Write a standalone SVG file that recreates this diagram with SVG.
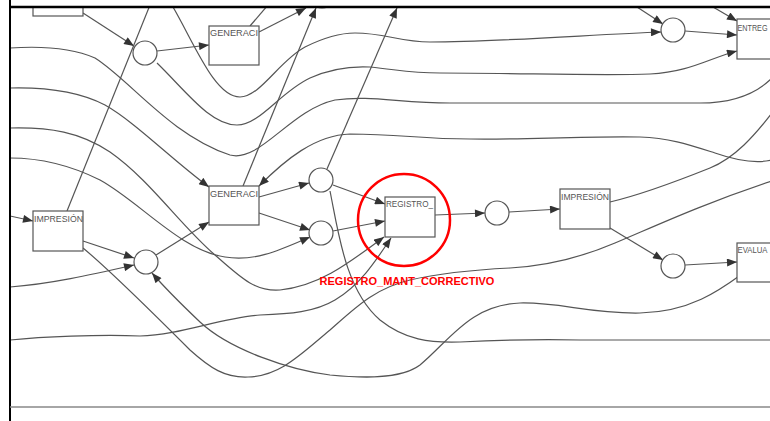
<svg xmlns="http://www.w3.org/2000/svg" width="770" height="421" viewBox="0 0 770 421">
<defs>
<style>
.edge{fill:none;stroke:#555;stroke-width:1.2}
.arr{marker-end:url(#ah)}
.box{fill:#fff;stroke:#555;stroke-width:1.2}
.pl{fill:#fff;stroke:#555;stroke-width:1.2}
.lbl{font-family:"Liberation Sans",Arial,sans-serif;font-size:9.5px;fill:#555}
.red{font-family:"Liberation Sans",Arial,sans-serif;font-size:11px;font-weight:bold;fill:#f00}
</style>
<marker id="ah" viewBox="0 0 10 8" refX="10" refY="4" markerWidth="11" markerHeight="8" markerUnits="userSpaceOnUse" orient="auto">
<path d="M0,0 L10,4 L0,8 z" fill="#333"/>
</marker>
<clipPath id="frame"><rect x="10" y="7" width="760" height="400"/></clipPath>
</defs>
<rect x="0" y="0" width="770" height="421" fill="#fff"/>
<g clip-path="url(#frame)">
<g id="connectors">
<path class="edge arr" d="M83,13 L134,46"/>
<path class="edge arr" d="M157,51 L209,45"/>
<path class="edge" d="M67,211 L150,5"/>
<path class="edge arr" d="M259,32 L306,8"/>
<path class="edge" d="M250,26 L268,5"/>
<path class="edge arr" d="M243,186 L316,8"/>
<path class="edge arr" d="M327,169 L397,8"/>
<path class="edge arr" d="M259,197 L309,183"/>
<path class="edge arr" d="M259,213 L310,230"/>
<path class="edge arr" d="M333,185 L385,204"/>
<path class="edge arr" d="M333,231 L385,221"/>
<path class="edge arr" d="M435,215 L485,213"/>
<path class="edge arr" d="M509,212 L560,209"/>
<path class="edge arr" d="M610,228 L663,260"/>
<path class="edge arr" d="M685,265 L737,262"/>
<path class="edge arr" d="M685,31 L737,35"/>
<path class="edge arr" d="M83,241 L134,258"/>
<path class="edge arr" d="M156,255 L209,222"/>
<path class="edge arr" d="M10,216 L33,221"/>
<path class="edge arr" d="M10,287 C50,284 90,275 134,265"/>
<path class="edge arr" d="M637,7 L663,24"/>
<path class="edge arr" d="M713,7 L737,21"/>
<path class="edge arr" d="M173,7 C195,45 215,97 240,97 C260,97 280,60 305,47 C325,37 340,33 355,33 C385,33 400,42 430,42 C500,42 600,34 661,32"/>
<path class="edge arr" d="M157,63 C185,90 210,125 237,125 C260,125 280,92 310,78 C330,69 350,66 370,67 C400,70 410,73 440,73 C520,73 600,76 650,74 C690,72 710,58 737,51"/>
<path class="edge" d="M10,48 C40,46 70,47 95,58 C130,80 170,135 230,155 C260,163 290,110 335,100 C370,95 400,103 450,103 L700,103 C730,103 755,95 772,78"/>
<path class="edge arr" d="M772,160 C755,164 735,160 715,153 C690,145 670,138 640,137 C580,136 520,140 470,139 C420,139 400,134 350,134 C315,135 285,160 259,186"/>
<path class="edge arr" d="M10,88 C50,87 80,92 105,105 C135,122 170,158 209,187"/>
<path class="edge arr" d="M10,128 C50,127 80,132 110,152 C150,180 180,225 215,255 C240,277 255,292 280,290 C320,286 350,262 384,237"/>
<path class="edge arr" d="M10,158 C40,158 70,165 100,180 C140,202 180,250 225,257 C255,262 280,250 310,237"/>
<path class="edge" d="M83,248 C100,262 150,310 190,350 C210,368 225,378 248,377 C280,376 300,355 330,330 C355,308 375,288 410,280 C440,273 470,270 510,268 C545,266 580,258 615,243 C660,224 700,205 772,181"/>
<path class="edge arr" d="M742,274 C720,290 690,312 640,313 C590,314 560,302 520,303 C470,305 450,340 420,365 C400,380 360,378 330,375 C290,370 230,350 200,322 C180,303 165,288 152,273"/>
<path class="edge" d="M330,191 C338,230 345,290 380,320 C405,340 430,343 460,342 C500,340 540,339 580,340 L772,340"/>
<path class="edge arr" d="M10,340 C40,337 100,334 140,336 C180,335 220,318 260,315 C290,314 315,312 335,300 C360,285 375,262 391,238"/>
<path class="edge" d="M610,202 C640,195 680,180 710,168 C735,158 755,135 772,113"/>
</g>
<g id="node-top-left"><rect class="box" x="33" y="-10" width="50" height="26"/></g>
<g id="node-top-circle"><circle class="pl" cx="322" cy="-4" r="12"/></g>
<g id="p1"><circle class="pl" cx="145" cy="53" r="12"/></g>
<g id="generacion-1"><rect class="box" x="209" y="26" width="50" height="39"/><text class="lbl" x="210" y="35.5" textLength="48" lengthAdjust="spacingAndGlyphs">GENERACI</text></g>
<g id="generacion-2"><rect class="box" x="209" y="186" width="50" height="39"/><text class="lbl" x="210" y="197" textLength="48" lengthAdjust="spacingAndGlyphs">GENERACI</text></g>
<g id="impresion-left"><rect class="box" x="33" y="211" width="50" height="40"/><text class="lbl" x="34" y="222" textLength="49" lengthAdjust="spacingAndGlyphs">IMPRESIÓN</text></g>
<g id="p-bot"><circle class="pl" cx="146" cy="262" r="12"/></g>
<g id="p-r1"><circle class="pl" cx="321" cy="180" r="12"/></g>
<g id="p-r2"><circle class="pl" cx="321" cy="233" r="12"/></g>
<g id="registro"><rect class="box" x="385" y="197" width="50" height="40"/><text class="lbl" x="386" y="207" textLength="47" lengthAdjust="spacingAndGlyphs">REGISTRO_</text></g>
<g id="p-mid"><circle class="pl" cx="497" cy="213" r="12"/></g>
<g id="impresion-right"><rect class="box" x="560" y="189" width="50" height="40"/><text class="lbl" x="561" y="200" textLength="48" lengthAdjust="spacingAndGlyphs">IMPRESIÓN</text></g>
<g id="p-bot-right"><circle class="pl" cx="673" cy="266" r="12"/></g>
<g id="evalua"><rect class="box" x="737" y="243" width="50" height="39"/><text class="lbl" x="737.5" y="253" textLength="30" lengthAdjust="spacingAndGlyphs">EVALUA</text></g>
<g id="p-top-right"><circle class="pl" cx="673" cy="30" r="12"/></g>
<g id="entrega"><rect class="box" x="737" y="19" width="50" height="40"/><text class="lbl" x="737.5" y="31" textLength="30" lengthAdjust="spacingAndGlyphs">ENTREG</text></g>
</g>
<g id="frame-lines">
<line x1="10" y1="0" x2="10" y2="421" stroke="#000" stroke-width="2"/>
<line x1="9" y1="7" x2="770" y2="7" stroke="#000" stroke-width="2.5"/>
<line x1="10" y1="407" x2="770" y2="407" stroke="#888" stroke-width="1.5"/>
</g>
<g id="highlight">
<circle cx="404" cy="220" r="46" fill="none" stroke="#f00" stroke-width="2.5"/>
<text class="red" x="407" y="285" text-anchor="middle">REGISTRO_MANT_CORRECTIVO</text>
</g>
</svg>
